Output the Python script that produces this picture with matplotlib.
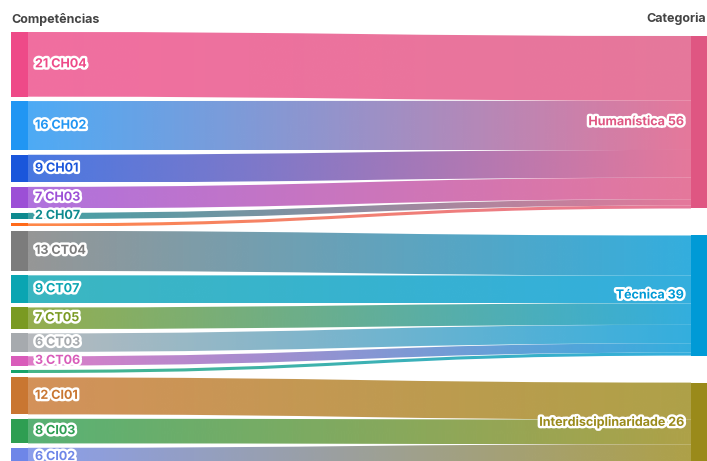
"""Sankey: competências -> categoria (cropped view, like the original export)."""

import numpy as np
import matplotlib

matplotlib.use("Agg")
import matplotlib.pyplot as plt  # noqa: E402
import matplotlib.patheffects as pe  # noqa: E402
from matplotlib.path import Path  # noqa: E402
from matplotlib.patches import PathPatch, Rectangle  # noqa: E402
from matplotlib.colors import to_rgb  # noqa: E402

# --- data -------------------------------------------------------------------
sources = ["CH04", "CH02", "CH01", "CH03", "CH07", None,
           "CT04", "CT07", "CT05", "CT03", "CT06", None,
           "CI01", "CI03", "CI02"]
source_values = [21, 16, 9, 7, 2, 1,
                 13, 9, 7, 6, 3, 1,
                 12, 8, 6]
source_target = [0, 0, 0, 0, 0, 0,
                 1, 1, 1, 1, 1, 1,
                 2, 2, 2]
source_colors = ["#ee4a88", "#2196f3", "#1a56db", "#9c4fd6", "#0e8a8f", "#ff6a1a",
                 "#7c7c7c", "#0aa5b2", "#7a9a22", "#a6aaae", "#d95cba", "#17a36a",
                 "#c97631", "#2e9e52", "#6e86e8"]

targets = ["Humanística", "Técnica", "Interdisciplinaridade"]
target_colors = ["#df5682", "#009ad6", "#9a8a1a"]

left_title = "Competências"
right_title = "Categoria"

# --- layout (pixel-like units) -----------------------------------------------
W, H = 707, 461
k = 3.08            # px per unit
left_top, left_gap = 32, 4.4
right_top, right_gap = 36, 27
xl0, xl1 = 11, 28   # left node strip
xr0, xr1 = 691, 707 # right node strip
link_alpha = 0.8
font = "Inter"

target_values = [sum(v for v, t in zip(source_values, source_target) if t == j)
                 for j in range(len(targets))]

fig = plt.figure(figsize=(W / 100, H / 100), dpi=100)
ax = fig.add_axes([0, 0, 1, 1])
ax.set_xlim(0, W)
ax.set_ylim(H, 0)
ax.axis("off")

# right node positions
right_pos = []
y = right_top
for v in target_values:
    right_pos.append(y)
    y += v * k + right_gap
right_fill = list(right_pos)


def link(ax, x0, x1, a0, a1, b0, b1, c0, c1):
    xm = (x0 + x1) / 2
    verts = [(x0, a0), (xm, a0), (xm, b0), (x1, b0),
             (x1, b1), (xm, b1), (xm, a1), (x0, a1), (x0, a0)]
    codes = [Path.MOVETO, Path.CURVE4, Path.CURVE4, Path.CURVE4,
             Path.LINETO, Path.CURVE4, Path.CURVE4, Path.CURVE4, Path.CLOSEPOLY]
    patch = PathPatch(Path(verts, codes), facecolor="none", edgecolor="none")
    ax.add_patch(patch)
    t = np.linspace(0, 1, 256)[:, None]
    rgb = (1 - t) * np.array(to_rgb(c0)) + t * np.array(to_rgb(c1))
    img = np.concatenate([rgb, np.full((256, 1), link_alpha)], axis=1)[None, :, :]
    ymin, ymax = min(a0, b0), max(a1, b1)
    im = ax.imshow(img, extent=(x0, x1, ymax, ymin), aspect="auto",
                   interpolation="bilinear", zorder=1)
    im.set_clip_path(patch)


halo = [pe.withStroke(linewidth=3.5, foreground="white")]

y = left_top
for name, v, t, c in zip(sources, source_values, source_target, source_colors):
    h = v * k
    ry = right_fill[t]
    right_fill[t] += h
    link(ax, xl1, xr0, y, y + h, ry, ry + h, c, target_colors[t])
    ax.add_patch(Rectangle((xl0, y), xl1 - xl0, h, color=c, lw=0, zorder=2))
    if name:
        ax.text(xl1 + 7, y + h / 2, f"{v} {name}", color=c, fontsize=9,
                fontweight="bold", family=font, va="center", ha="left",
                path_effects=halo, zorder=4)
    y += h + left_gap

for name, v, ry, c in zip(targets, target_values, right_pos, target_colors):
    h = v * k
    ax.add_patch(Rectangle((xr0, ry), xr1 - xr0, h, color=c, lw=0, zorder=2))
    ax.text(xr0 - 7, ry + h / 2, f"{name} {v}", color=c, fontsize=9,
            fontweight="bold", family=font, va="center", ha="right",
            path_effects=halo, zorder=4)

ax.text(xl0, 19, left_title, color="#444444", fontsize=9, fontweight="bold",
        family=font, va="center", ha="left")
ax.text(W - 1, 19, right_title, color="#444444", fontsize=9, fontweight="bold",
        family=font, va="center", ha="right")

fig.savefig("out.png", dpi=100)
